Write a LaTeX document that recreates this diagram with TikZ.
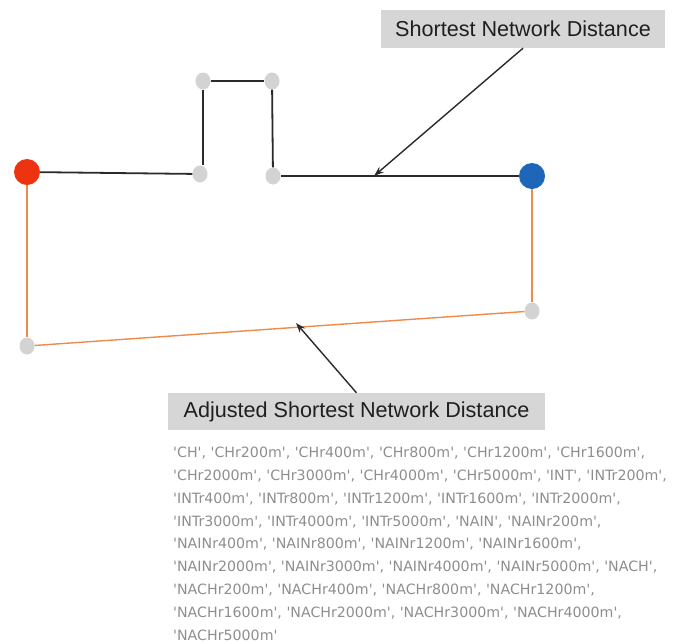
\documentclass[tikz,border=0pt]{standalone}
\usepackage{fontspec}
\setmainfont{Liberation Sans}
\newfontfamily\listfont{DejaVu Sans}
\usetikzlibrary{shapes.geometric,arrows.meta}
\definecolor{nodegray}{HTML}{D3D3D3}
\definecolor{labelgray}{HTML}{D6D6D6}
\definecolor{redpt}{HTML}{EE3311}
\definecolor{bluept}{HTML}{1E66B8}
\definecolor{orangeln}{HTML}{EE8A4A}
\definecolor{listgray}{HTML}{8E8E8E}
\definecolor{blackln}{HTML}{2A2A2A}
\tikzset{
  gnode/.style={ellipse, fill=nodegray, minimum width=15pt, minimum height=17pt, inner sep=0pt},
  endpt/.style={circle, minimum size=26pt, inner sep=0pt},
  netln/.style={blackln, line width=1.8pt},
  adjln/.style={orangeln, line width=1.4pt},
  callout/.style={fill=labelgray, inner sep=0pt, font=\fontsize{21.6}{24}\selectfont, text=black!88},
  pointer/.style={blackln, line width=1.4pt, -{Stealth[length=10pt,width=7pt]}}
}
\begin{document}
\begin{tikzpicture}[x=1pt,y=-1pt]
\useasboundingbox (0,0) rectangle (698,643);
% nodes
\node[endpt, fill=redpt] (red) at (27,172) {};
\node[endpt, fill=bluept] (blue) at (532,176) {};
\node[gnode] (tl) at (203,81) {};
\node[gnode] (tr) at (272,81) {};
\node[gnode] (bl) at (200,174) {};
\node[gnode] (br) at (273,176) {};
\node[gnode] (ol) at (27,346) {};
\node[gnode] (or) at (532,311) {};
% shortest network path
\draw[netln] (red) -- (bl);
\draw[netln] (tl) -- (tl |- bl.north);
\draw[netln] (tl) -- (tr);
\draw[netln] (tr) -- (br);
\draw[netln] (br) -- (blue);
% adjusted path
\draw[adjln] (red) -- (ol);
\draw[adjln] (ol) -- (or);
\draw[adjln] (or) -- (blue);
% labels
\node[callout, minimum width=284pt, minimum height=38pt] (lab1) at (523,29) {Shortest Network Distance};
\node[callout, minimum width=377pt, minimum height=37pt] (lab2) at (356.5,411.5) {Adjusted Shortest Network Distance};
\coordinate (p1) at (374,176);
\coordinate (p2) at (296,323);
\draw[pointer] (lab1.south) -- (p1);
\draw[pointer] (lab2.north) -- (p2);
% list text
\node[anchor=north west, inner sep=0pt, align=left, text=listgray,
      font=\listfont\fontsize{14.2}{22.8}\selectfont] (list) at (173,447)
{'CH', 'CHr200m', 'CHr400m', 'CHr800m', 'CHr1200m', 'CHr1600m',\\
'CHr2000m', 'CHr3000m', 'CHr4000m', 'CHr5000m', 'INT', 'INTr200m',\\
'INTr400m', 'INTr800m', 'INTr1200m', 'INTr1600m', 'INTr2000m',\\
'INTr3000m', 'INTr4000m', 'INTr5000m', 'NAIN', 'NAINr200m',\\
'NAINr400m', 'NAINr800m', 'NAINr1200m', 'NAINr1600m',\\
'NAINr2000m', 'NAINr3000m', 'NAINr4000m', 'NAINr5000m', 'NACH',\\
'NACHr200m', 'NACHr400m', 'NACHr800m', 'NACHr1200m',\\
'NACHr1600m', 'NACHr2000m', 'NACHr3000m', 'NACHr4000m',\\
'NACHr5000m'};
\end{tikzpicture}
\end{document}
